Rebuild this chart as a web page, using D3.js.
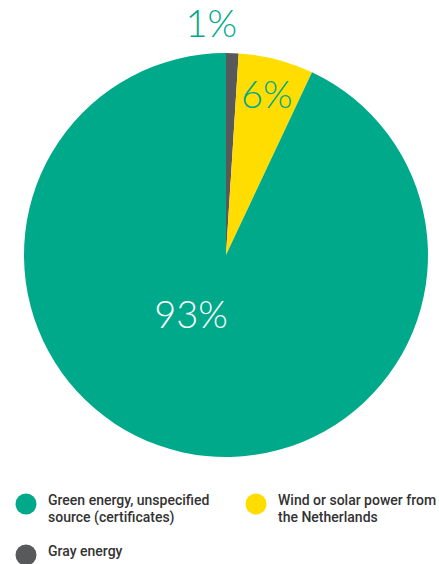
<!DOCTYPE html>
<html><head><meta charset="utf-8">
<script src="https://cdn.jsdelivr.net/npm/d3@7"></script>
<style>body{margin:0;background:#fff}svg{display:block}</style>
</head><body>
<script>
const categories = ["Gray energy", "Wind or solar power from the Netherlands", "Green energy, unspecified source (certificates)"];
const values = [1, 6, 93];
const labels = ["1%", "6%", "93%"];
const colors = ["#58595b", "#ffdd00", "#00a98a"];
const legendOrder = [2, 1, 0];
const legendLines = {
  2: ["Green energy, unspecified", "source (certificates)"],
  1: ["Wind or solar power from", "the Netherlands"],
  0: ["Gray energy"]
};

const W = 439, H = 564;
const svg = d3.select("body").append("svg").attr("width", W).attr("height", H);
const cx = 226, cy = 255, R = 202;
const pie = d3.pie().sort(null).value(d => d)(values);
const arc = d3.arc().innerRadius(0).outerRadius(R);
const g = svg.append("g").attr("transform", `translate(${cx},${cy})`);
g.selectAll("path").data(pie).join("path").attr("d", arc).attr("fill", (d, i) => colors[i]);

const labelPos = [
  {r: R + 28, dx: -22, color: "#00a98a"},
  {r: R - 38, dx: 0, color: "#00a98a"},
  {r: 0, dx: 0, color: "#ffffff"}
];
g.selectAll("text").data(pie).join("text")
  .attr("transform", (d, i) => {
    if (i === 2) return `translate(-35,73)`;
    const a = (d.startAngle + d.endAngle) / 2;
    const rr = labelPos[i].r;
    return `translate(${Math.sin(a) * rr + labelPos[i].dx},${-Math.cos(a) * rr + 12})`;
  })
  .attr("text-anchor", "middle")
  .attr("font-family", "Lato, 'Open Sans', sans-serif")
  .attr("font-weight", 300)
  .attr("font-size", 38)
  .attr("fill", (d, i) => labelPos[i].color)
  .text((d, i) => labels[i]);

const legPos = {2: [26, 504], 1: [256, 504], 0: [26, 555]};
const leg = svg.append("g");
legendOrder.forEach(i => {
  const [x, y] = legPos[i];
  leg.append("circle").attr("cx", x).attr("cy", y).attr("r", 10.5).attr("fill", colors[i]);
  legendLines[i].forEach((ln, k) => {
    leg.append("text").attr("x", x + 22).attr("y", y + 1 + k * 16.5)
      .attr("font-family", "Roboto, sans-serif").attr("font-weight", 500)
      .attr("font-size", 14).attr("fill", "#333").text(ln);
  });
});
</script>
</body></html>
